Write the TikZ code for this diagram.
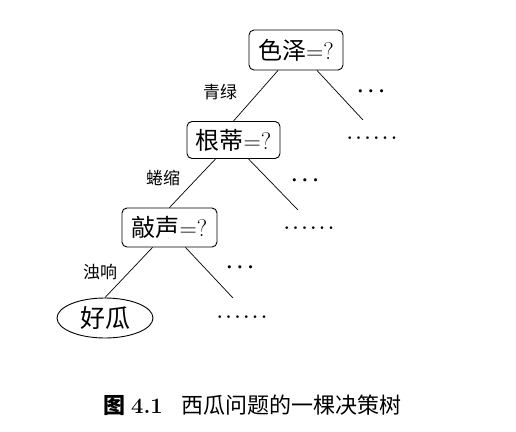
\documentclass[tikz,border=0pt]{standalone}
\usepackage{fontspec}
\newfontfamily\cjk{Noto Sans CJK SC}
\usetikzlibrary{shapes.geometric}
\tikzset{
  box/.style={draw, rounded corners=5pt, line width=0.9pt, inner sep=0pt, font=\fontsize{24}{28}\selectfont},
  leaf/.style={draw, ellipse, line width=0.9pt, inner sep=0pt, minimum width=96pt, minimum height=40pt, font=\fontsize{25}{28}\selectfont},
  edge/.style={line width=0.7pt},
  lbl/.style={inner sep=0pt, font=\fontsize{17}{20}\selectfont\cjk},
  dots/.style={inner sep=0pt, font=\fontsize{20}{24}\selectfont\boldmath},
  sixdots/.style={inner sep=0pt, font=\fontsize{18}{22}\selectfont\boldmath}
}
\begin{document}
\begin{tikzpicture}[x=1pt,y=-1pt]
\useasboundingbox (0,0) rectangle (516,431);
\node[box, minimum width=94pt, minimum height=40pt] (b1) at (296,50) {{\cjk 色泽}=?};
\node[box, minimum width=93pt, minimum height=37pt] (b2) at (233.5,140) {{\cjk 根蒂}=?};
\node[box, minimum width=95pt, minimum height=39pt] (b3) at (169.5,227.5) {{\cjk 敲声}=?};
\node[leaf] (e) at (105,318) {\cjk 好瓜};
\coordinate (r1) at (363,120);
\coordinate (r2) at (298,210);
\coordinate (r3) at (233,298);
\draw[edge] ([xshift=-18pt]b1.south) -- (b2.north);
\draw[edge] ([xshift=21pt]b1.south) -- (r1);
\draw[edge] ([xshift=-18pt]b2.south) -- (b3.north);
\draw[edge] ([xshift=15pt]b2.south) -- (r2);
\draw[edge] ([xshift=-17pt]b3.south) -- (e.north);
\draw[edge] ([xshift=16pt]b3.south) -- (r3);
\node[lbl] (l1) at (220,92) {青绿};
\node[lbl] (l2) at (163,178) {蜷缩};
\node[lbl] (l3) at (100,272) {浊响};
\node[dots] (d1) at (371,92) {$\cdots$};
\node[sixdots] (d2) at (372,138) {$\ldots\ldots$};
\node[dots] (d3) at (305,181) {$\cdots$};
\node[sixdots] (d4) at (309,228) {$\ldots\ldots$};
\node[dots] (d5) at (240,268) {$\cdots$};
\node[sixdots] (d6) at (242,317) {$\ldots\ldots$};
\node[inner sep=0pt, font=\fontsize{22}{26}\selectfont] (cap) at (252.5,405) {{\cjk\bfseries 图}\hspace{6pt}\textbf{4.1}\hspace{19pt}{\cjk 西瓜问题的一棵决策树}};
\end{tikzpicture}
\end{document}
